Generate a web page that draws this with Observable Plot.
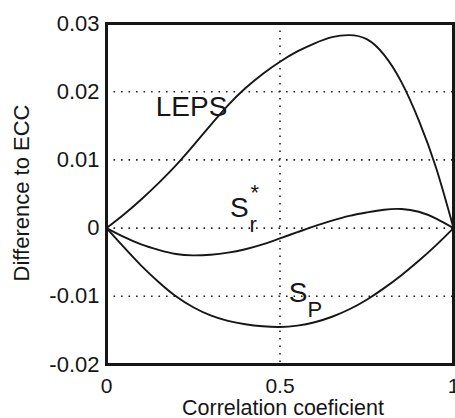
<!DOCTYPE html>
<html>
<head>
<meta charset="utf-8">
<script src="https://cdn.jsdelivr.net/npm/d3@7"></script>
<script src="https://cdn.jsdelivr.net/npm/@observablehq/plot@0.6"></script>
<style>
  html, body { margin: 0; padding: 0; background: #fff; overflow: hidden; }
  #chart svg { display: block; }
</style>
</head>
<body>
<div id="chart"></div>
<script>
// Correlation coefficient sampled along the x axis
const corr = [0, 0.05, 0.1, 0.15, 0.2, 0.25, 0.3, 0.35, 0.4, 0.45, 0.5,
              0.55, 0.6, 0.65, 0.7, 0.75, 0.8, 0.85, 0.9, 0.95, 1];

// Difference of each score to ECC
const leps = [0, 0.0020, 0.0042, 0.0066, 0.0092, 0.0121, 0.0151, 0.0180, 0.0205, 0.0226, 0.0244,
              0.0259, 0.0271, 0.0280, 0.0283, 0.0277, 0.0254, 0.0214, 0.0158, 0.0088, 0];
const sRstar = [0, -0.0013, -0.0024, -0.0032, -0.0038, -0.0040, -0.0039, -0.0036, -0.0031, -0.0024, -0.0015,
                -0.0006, 0.0003, 0.0011, 0.0018, 0.0023, 0.0027, 0.0028, 0.0024, 0.0014, 0];
const sP = [0, -0.0028, -0.0055, -0.0079, -0.0100, -0.0116, -0.0128, -0.0136, -0.0141, -0.0144, -0.0145,
            -0.0143, -0.0138, -0.0130, -0.0119, -0.0105, -0.0088, -0.0069, -0.0048, -0.0025, 0];

// Axis ticks and their printed labels
const xTicks = [0, 0.5, 1];
const xTickLabels = ["0", "0.5", "1"];
const yTicks = [-0.02, -0.01, 0, 0.01, 0.02, 0.03];
const yTickLabels = ["-0.02", "-0.01", "0", "0.01", "0.02", "0.03"];

// Dotted grid positions
const xGrid = [0.5];
const yGrid = [-0.01, 0, 0.01, 0.02];

const rows = (values) => corr.map((r, i) => ({r, v: values[i]}));
const xLabel = new Map(xTicks.map((t, i) => [t, xTickLabels[i]]));
const yLabel = new Map(yTicks.map((t, i) => [t, yTickLabels[i]]));

const font = "'Liberation Sans', Arial, Helvetica, sans-serif";
const ink = "#161616";
const dots = {stroke: "#222", strokeWidth: 1.6, strokeDasharray: "1.6 5.9"};
const curve = {x: "r", y: "v", curve: "natural", stroke: ink, strokeWidth: 1.9};

const chart = Plot.plot({
  width: 455,
  height: 418,
  marginLeft: 106,
  marginRight: 2,
  marginTop: 23,
  marginBottom: 54,
  style: {fontFamily: font, fontSize: "22px", color: ink, background: "#fff"},
  x: {domain: [0, 1]},
  y: {domain: [-0.02, 0.03]},
  marks: [
    Plot.ruleY(yGrid, dots),
    Plot.ruleX(xGrid, dots),
    Plot.line(rows(leps), curve),
    Plot.line(rows(sRstar), curve),
    Plot.line(rows(sP), curve),
    Plot.frame({stroke: ink, strokeWidth: 3}),
    Plot.axisX({ticks: xTicks, tickFormat: d => xLabel.get(d), tickSize: 0, tickPadding: 14,
                fontSize: 21, fill: ink, label: null}),
    Plot.axisY({ticks: yTicks, tickFormat: d => yLabel.get(d), tickSize: 0, tickPadding: 7,
                fontSize: 22, fill: ink, label: null}),
    // Axis titles
    Plot.text(["Correlation coeficient"], {frameAnchor: "bottom", dy: 50.5, dx: 3,
      lineAnchor: "bottom", textAnchor: "middle", fontSize: 21.5, fill: ink}),
    Plot.text(["Difference to ECC"], {frameAnchor: "left", dx: -78, dy: -1, rotate: -90,
      lineAnchor: "bottom", textAnchor: "middle", fontSize: 22, fill: ink}),
    // Curve labels
    Plot.text([{x: 0.142, y: 0.0164, t: "LEPS"}], {x: "x", y: "y", text: "t",
      textAnchor: "start", lineAnchor: "bottom", fontSize: 28, fill: ink}),
    Plot.text([{x: 0.356, y: 0.0017, t: "S"}, {x: 0.525, y: -0.0108, t: "S"}],
      {x: "x", y: "y", text: "t", textAnchor: "start", lineAnchor: "bottom", fontSize: 28, fill: ink}),
    Plot.text([{x: 0.412, y: -0.0005, t: "r"}, {x: 0.579, y: -0.0130, t: "P"}, {x: 0.415, y: 0.0041, t: "*"}],
      {x: "x", y: "y", text: "t", textAnchor: "start", lineAnchor: "bottom", fontSize: 22, fill: ink})
  ]
});

document.getElementById("chart").appendChild(chart);
</script>
</body>
</html>
